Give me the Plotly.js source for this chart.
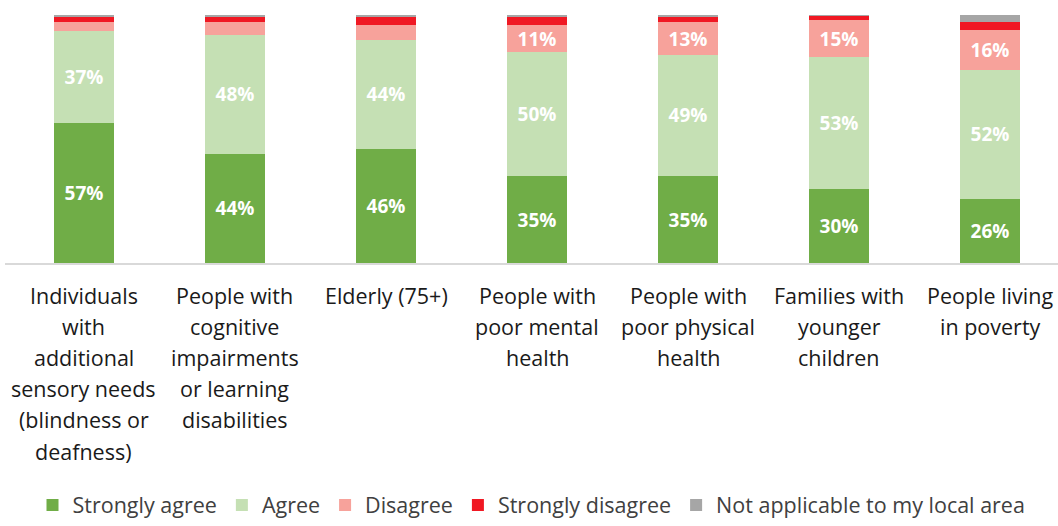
<!DOCTYPE html>
<html>
<head>
<meta charset="utf-8">
<script src="https://cdn.plot.ly/plotly-3.0.1.min.js"></script>
<style>
html,body{margin:0;padding:0;background:#fff;}
#chart{width:1058px;height:526px;}
</style>
</head>
<body>
<div id="chart"></div>
<script>
const categories = [
  "Individuals<br>with<br>additional<br>sensory needs<br>(blindness or<br>deafness)",
  "People with<br>cognitive<br>impairments<br>or learning<br>disabilities",
  "Elderly (75+)",
  "People with<br>poor mental<br>health",
  "People with<br>poor physical<br>health",
  "Families with<br>younger<br>children",
  "People living<br>in poverty"
];
const stronglyAgree    = [56.5, 44, 46, 35, 35, 30, 26];
const agree            = [37, 48, 44, 50, 49, 53, 52];
const disagree         = [3.5, 5, 6, 11, 13, 15, 16];
const stronglyDisagree = [2, 2, 3, 3, 2, 1.5, 3];
const notApplicable    = [1, 1, 1, 1, 1, 0.5, 3];

const seriesNames  = ["Strongly agree", "Agree", "Disagree", "Strongly disagree", "Not applicable to my local area"];
const seriesValues = [stronglyAgree, agree, disagree, stronglyDisagree, notApplicable];
const seriesColors = ["#70AD47", "#C5E0B4", "#F7A29B", "#F01823", "#A6A6A6"];
const showLabels   = [true, true, true, false, false];

const FONT = "'Open Sans', 'Noto Sans', sans-serif";
const xIdx = categories.map((_, i) => i);

const traces = seriesValues.map((vals, s) => ({
  type: "bar",
  name: seriesNames[s],
  x: xIdx,
  y: vals,
  width: 0.4,
  marker: {color: seriesColors[s], line: {width: 0}},
  text: vals.map(v => (showLabels[s] && v >= 10) ? Math.round(v) + "%" : ""),
  textposition: "inside",
  insidetextanchor: "middle",
  constraintext: "none",
  textfont: {family: FONT, size: 19, color: "#ffffff", weight: 700},
  hoverinfo: "name+y",
  cliponaxis: false
}));

// category labels, one annotation per line for Excel-like line spacing
const annotations = [];
categories.forEach((c, i) => {
  c.split("<br>").forEach((line, k) => {
    annotations.push({
      text: line, x: i, xref: "x", y: 0, yref: "paper",
      yanchor: "middle", xanchor: "center", showarrow: false,
      yshift: -32 - k * 31.2,
      font: {family: FONT, size: 21.5, color: "#1a1a1a"}
    });
  });
});

const layout = {
  width: 1058, height: 526,
  margin: {l: 5, r: 0, t: 15, b: 258},
  paper_bgcolor: "#ffffff", plot_bgcolor: "#ffffff",
  barmode: "stack",
  showlegend: true,
  legend: {
    orientation: "h", x: 0.5, xanchor: "center", y: -0.976, yanchor: "middle",
    font: {family: FONT, size: 21.5, color: "#404040"},
    traceorder: "normal", itemwidth: 30, tracegroupgap: 0
  },
  xaxis: {
    range: [-0.523, 6.45], tickvals: xIdx, showticklabels: false, ticks: "",
    showgrid: false, zeroline: false, showline: true, linecolor: "#d9d9d9", linewidth: 2,
    fixedrange: true
  },
  yaxis: {
    range: [0, 100], visible: false, showgrid: false, zeroline: false, fixedrange: true
  },
  annotations: annotations
};

Plotly.newPlot("chart", traces, layout, {displayModeBar: false, staticPlot: true});
</script>
</body>
</html>
